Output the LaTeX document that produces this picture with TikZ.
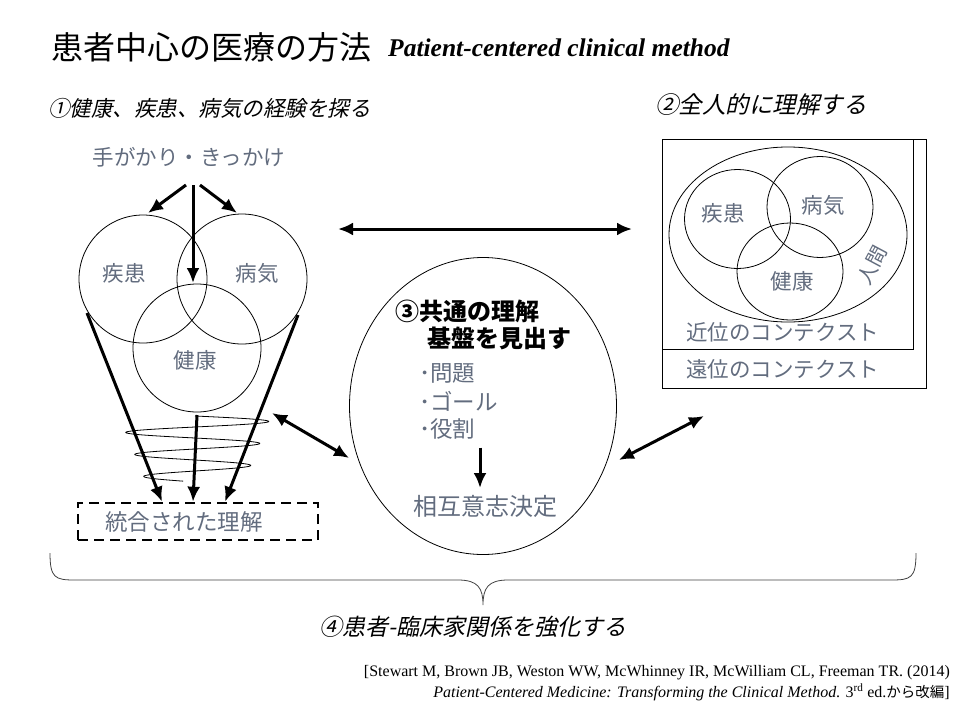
\documentclass[tikz,border=0pt]{standalone}
\usepackage{fontspec}
\setmainfont{Liberation Serif}
\newfontfamily\jp{Noto Sans CJK JP}
\newfontfamily\jpit[FakeSlant=0.22]{Noto Sans CJK JP}
\usetikzlibrary{positioning,arrows.meta,shapes.geometric}
\definecolor{labelgray}{RGB}{98,108,126}

\begin{document}
\begin{tikzpicture}[x=1pt, y=-1pt, >={Latex[length=15pt,width=13pt]}]
        \tikzset{
  graytext/.style={
    text=labelgray,
    inner sep=0pt,
    font=\jp\fontsize{21.5}{21.5}\selectfont
  },
  heading/.style={
    inner sep=0pt,
    font=\jpit\fontsize{22}{22}\selectfont
  },
  venn/.style={
    draw,
    ellipse,
    line width=0.8pt
  },
  fat arrow/.style={
    ->,
    line width=3pt
  },
  fat both/.style={
    <->,
    line width=3pt
  }
}
\useasboundingbox (0,0) rectangle (960,720);

% title
\node [inner sep=0pt, anchor=west, font=\jp\fontsize{32}{32}\selectfont] (title) at (51,47) {患者中心の医療の方法};
\node [inner sep=0pt, anchor=west, font=\bfseries\itshape\fontsize{25.5}{25.5}\selectfont] (subtitle) at (388,48) {Patient-centered clinical method};

% (1) left part
\node [heading, anchor=west, font=\jpit\fontsize{21.5}{21.5}\selectfont] (head-one) at (48,108) {①健康、疾患、病気の経験を探る};
\node [graytext] (cue) at (189,157) {手がかり・きっかけ};

\node [draw, circle, line width=0.8pt, minimum size=128] (ill-l) at (143,279) {};
\node [draw, circle, line width=0.8pt, minimum size=130] (dis-l) at (242,279) {};
\node [draw, circle, line width=0.8pt, minimum size=128] (hea-l) at (197,348) {};
\node [graytext] at (124,273) {疾患};
\node [graytext] at (257,273) {病気};
\node [graytext] at (195,360) {健康};

% spiral
\draw [line width=0.8pt] plot [domain=0:1066, samples=300, smooth]
  ({195+(76-0.025*\x)*sin(\x)}, {416+\x/360*22});

\node [draw, dashed, dash pattern=on 10pt off 6pt, line width=2.6pt, minimum width=240, minimum height=37, inner sep=0pt] (merged) at (198,521.5) {};
\node [graytext, font=\jp\fontsize{22.5}{22.5}\selectfont] at (184,522) {統合された理解};

\coordinate (cue-l) at (186,185);
\coordinate (cue-m) at (193,185);
\coordinate (cue-r) at (200,185);
\draw [fat arrow] (cue-l) -- (148,213);
\draw [fat arrow] (cue-m) -- (193,283);
\draw [fat arrow] (cue-r) -- (237,213);

\coordinate (fun-l) at (87,313);
\coordinate (fun-m) at (197,415);
\coordinate (fun-r) at (298,315);
\draw [fat arrow] (fun-l) -- (merged.north -| 162,0);
\draw [fat arrow] (fun-m) -- (merged.north -| 193,0);
\draw [fat arrow] (fun-r) -- (merged.north -| 225,0);

% (3) middle part
\node [draw, ellipse, line width=0.8pt, minimum width=267, minimum height=297] (common) at (483,406) {};
\node [inner sep=0pt, anchor=west, font=\jp\bfseries\fontsize{24}{24}\selectfont] (head-three) at (395,311) {③共通の理解};
\node [inner sep=0pt, anchor=west, font=\jp\bfseries\fontsize{24}{24}\selectfont] at (427,338) {基盤を見出す};
\foreach \t [count=\y] in {問題,ゴール,役割}
  \node [graytext, anchor=west, font=\jp\fontsize{22.5}{22.5}\selectfont] (item-\y) at (419,345+28*\y) {･\t};
\node [graytext, font=\jp\fontsize{24}{24}\selectfont] (decide) at (485,506) {相互意志決定};
\draw [fat arrow] (item-3.south -| 480,0) ++(0,8) -- (480,488);

% (2) right part
\node [heading, font=\jpit\fontsize{23.5}{23.5}\selectfont] (head-two) at (761,105) {②全人的に理解する};
\draw [line width=0.8pt] (662,139) rectangle (926,388);
\draw [line width=0.8pt] (662,139) rectangle (913,349);
\node [venn, minimum width=238, minimum height=175] (person) at (788,234.5) {};
\node [venn, minimum width=106, minimum height=99] (ill-r) at (737.5,219) {};
\node [venn, minimum width=106, minimum height=101] (dis-r) at (820,207) {};
\node [venn, minimum width=106, minimum height=97] (hea-r) at (790,271.5) {};
\node [graytext] at (723,213) {疾患};
\node [graytext] at (823,205) {病気};
\node [graytext] at (792,281) {健康};
\node [graytext, rotate=62, font=\jp\fontsize{20}{20}\selectfont] at (872,265) {人間};
\node [graytext, anchor=west] (near) at (686,332) {近位のコンテクスト};
\node [graytext, anchor=west] (far) at (686,369) {遠位のコンテクスト};

% connections
\coordinate (link-l) at (338,229);
\coordinate (link-r) at (632,229);
\draw [fat both] (link-l) -- (link-r);
\draw [fat both] (272,413) -- (common.west |- 0,458);
\draw [fat both] (common.east |- 0,460) ++(2,0) -- (704,416);

% (4) brace
\coordinate (br-l) at (50,553);
\coordinate (br-t) at (483,605);
\coordinate (br-r) at (916,553);
\draw [line width=0.8pt, black!75] (br-l) .. controls (50,578) and (55,580) .. (75,580) -- (458,580)
  .. controls (478,580) and (483,588) .. (br-t)
  .. controls (483,588) and (488,580) .. (508,580) -- (891,580)
  .. controls (911,580) and (916,578) .. (br-r);
\node [heading, font=\jpit\fontsize{23}{23}\selectfont] (head-four) at (473,627) {④患者-臨床家関係を強化する};

% source
\node [inner sep=0pt, anchor=east, font=\fontsize{16}{16}\selectfont] (ref-a) at (950,673) {[Stewart M, Brown JB, Weston WW, McWhinney IR, McWilliam CL, Freeman TR. (2014)};
\node [inner sep=0pt, anchor=east, font=\fontsize{16}{16}\selectfont] (ref-b) at (950,692) {\textit{Patient-Centered Medicine: Transforming the Clinical Method}. 3\textsuperscript{rd} ed.{\jp\fontsize{14.5}{14.5}\selectfont から改編}]};
      \end{tikzpicture}
\end{document}
